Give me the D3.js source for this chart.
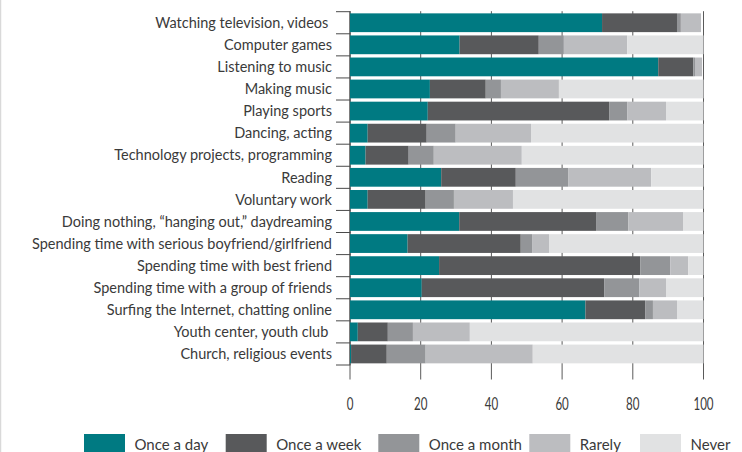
<!DOCTYPE html>
<html>
<head>
<meta charset="utf-8">
<script src="https://cdn.jsdelivr.net/npm/d3@7"></script>
<style>
  html, body { margin: 0; padding: 0; background: #fff; }
  svg { display: block; }
  text { font-family: Lato, "Open Sans", sans-serif; fill: #3a3a3a; }
</style>
</head>
<body>
<svg id="chart" width="742" height="452"></svg>
<script>
const categories = [
  "Watching television, videos ",
  "Computer games",
  "Listening to music",
  "Making music",
  "Playing sports",
  "Dancing, acting",
  "Technology projects, programming",
  "Reading",
  "Voluntary work",
  "Doing nothing, \u201changing out,\u201d daydreaming",
  "Spending time with serious boyfriend/girlfriend",
  "Spending time with best friend",
  "Spending time with a group of friends",
  "Surfing the Internet, chatting online",
  "Youth center, youth club ",
  "Church, religious events"
];
const seriesNames = ["Once a day", "Once a week", "Once a month", "Rarely", "Never"];
const onceADay   = [71.3, 31.0, 87.2, 22.6, 22.0,  5.0,  4.4, 25.8,  5.0, 30.9, 16.3, 25.2, 20.3, 66.6,  2.2,  0.3];
const onceAWeek  = [21.2, 22.4,  9.9, 15.8, 51.3, 16.7, 12.2, 21.1, 16.4, 38.7, 32.0, 56.9, 51.6, 16.9,  8.5, 10.1];
const onceAMonth = [ 1.1,  7.1,  0.5,  4.3,  5.1,  8.2,  7.1, 14.8,  8.0,  9.1,  3.2,  8.5,  9.9,  2.2,  7.1, 11.0];
const rarely     = [ 5.7, 17.9,  2.0, 16.4, 11.0, 21.3, 24.9, 23.5, 16.7, 15.5,  4.8,  5.1,  7.6,  6.8, 16.1, 30.3];
const never      = [ 0.0, 21.6,  0.0, 40.9, 10.6, 48.8, 51.4, 14.8, 53.9,  5.8, 43.7,  4.3, 10.6,  7.5, 66.1, 48.3];
const xTicks = [0, 20, 40, 60, 80, 100];
const colors = ["#007a82", "#58595b", "#939598", "#bcbdc0", "#e1e2e3"];

const seriesValues = [onceADay, onceAWeek, onceAMonth, rarely, never];
const table = categories.map((c, i) => {
  const row = { category: c };
  seriesNames.forEach((s, k) => row[s] = seriesValues[k][i]);
  return row;
});

const svg = d3.select("#chart");
const x = d3.scaleLinear().domain([0, 100]).range([350, 703.5]);
const y = d3.scaleBand().domain(categories).range([11.7, 365]).paddingInner(0.15).paddingOuter(0.075);
const color = d3.scaleOrdinal().domain(seriesNames).range(colors);

// left border of figure
svg.append("line").attr("x1", 0.5).attr("x2", 0.5).attr("y1", 0).attr("y2", 452)
  .attr("stroke", "#d9d9d9").attr("stroke-width", 1.5);

// vertical gridlines / ticks behind bars
svg.append("g").selectAll("line").data(xTicks).join("line")
  .attr("x1", d => x(d)).attr("x2", d => x(d))
  .attr("y1", 11.2).attr("y2", 379.5)
  .attr("stroke", "#5a5a5a").attr("stroke-width", 1);

// y axis: band boundary ticks
const step = y.step();
const y0 = y.range()[0];
const boundaries = d3.range(categories.length + 1).map(i => y0 + i * step);
svg.append("g").selectAll("line").data(boundaries).join("line")
  .attr("x1", 336).attr("x2", 350.5)
  .attr("y1", d => d).attr("y2", d => d)
  .attr("stroke", "#4a4a4a").attr("stroke-width", 1);
svg.append("line").attr("x1", 350).attr("x2", 350)
  .attr("y1", y0).attr("y2", y0 + step * categories.length)
  .attr("stroke", "#4a4a4a").attr("stroke-width", 1);

// bars
const stack = d3.stack().keys(seriesNames)(table);
svg.append("g").selectAll("g").data(stack).join("g")
  .attr("fill", d => color(d.key))
  .selectAll("rect").data(d => d).join("rect")
  .attr("x", d => x(d[0]))
  .attr("width", d => Math.max(0, x(d[1]) - x(d[0])))
  .attr("y", d => y(d.data.category))
  .attr("height", y.bandwidth());

// category labels
svg.append("g").selectAll("text").data(categories).join("text")
  .attr("x", 332).attr("y", d => y(d) + y.bandwidth() / 2)
  .attr("dy", "0.36em")
  .attr("text-anchor", "end")
  .style("font-size", "14.5px")
  .style("white-space", "pre")
  .text(d => d);

// x tick labels (horizontally condensed to match the narrow digits)
svg.append("g").selectAll("text").data(xTicks).join("text")
  .attr("transform", d => `translate(${x(d)},410) scale(0.68,1)`)
  .attr("text-anchor", "middle")
  .style("font-size", "17px")
  .text(d => d);

// legend
const legendX = [84, 225.7, 378.3, 529.3, 640];
const lg = svg.append("g").selectAll("g").data(seriesNames).join("g")
  .attr("transform", (d, i) => `translate(${legendX[i]},434)`);
lg.append("rect").attr("width", 41).attr("height", 20).attr("fill", d => color(d));
lg.append("text").attr("x", 50.5).attr("y", 16)
  .style("font-size", "15px")
  .text(d => d);
</script>
</body>
</html>
